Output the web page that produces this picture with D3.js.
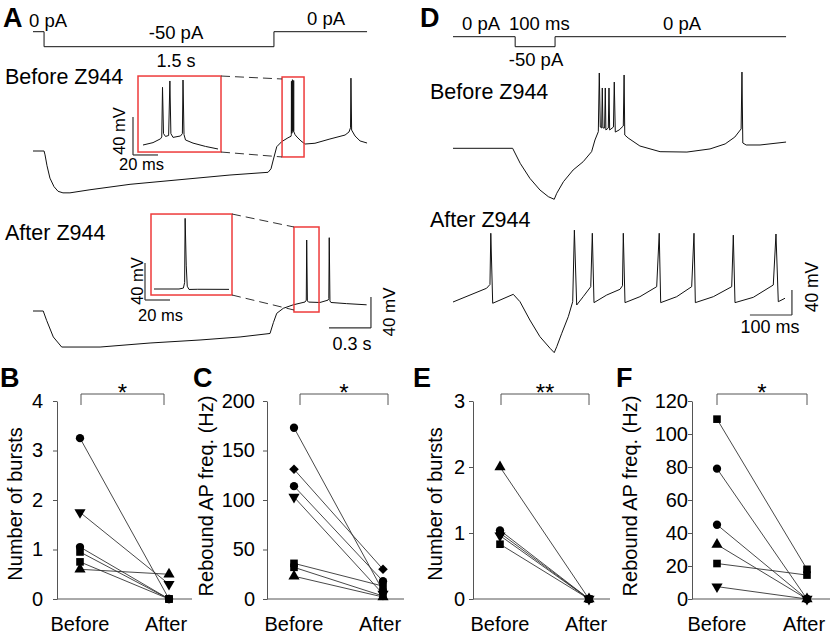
<!DOCTYPE html>
<html><head><meta charset="utf-8">
<script src="https://cdn.jsdelivr.net/npm/d3@7"></script>
<style>
body{margin:0;background:#fff}
svg{display:block}
text{font-family:Arial,"Liberation Sans",Helvetica,sans-serif;fill:#000}
</style></head>
<body><svg id="fig" width="831" height="634"></svg>
<script>
// ---------------- DATA ----------------
const groups = ["Before", "After"];

// Panel B: number of bursts (1.5 s step)
const bShapes = ["circle", "triDown", "circle", "square", "square", "triangle"];
const bBefore = [3.25, 1.75, 1.05, 0.95, 0.75, 0.6];
const bAfter  = [0, 0.3, 0, 0, 0, 0.5];
const bTicks  = [0, 1, 2, 3, 4];

// Panel C: rebound AP frequency (Hz)
const cShapes = ["circle", "diamond", "circle", "triDown", "square", "square", "triangle"];
const cBefore = [173, 131, 114, 103, 36, 32, 23];
const cAfter  = [8, 30, 18, 5, 13, 3, 2];
const cTicks  = [0, 50, 100, 150, 200];

// Panel E: number of bursts (100 ms step)
const eShapes = ["triangle", "circle", "circle", "triDown", "square"];
const eBefore = [2.0, 1.04, 1.0, 0.96, 0.83];
const eAfter  = [0, 0, 0, 0, 0];
const eTicks  = [0, 1, 2, 3];

// Panel F: rebound AP frequency (Hz)
const fShapes = ["square", "circle", "circle", "triangle", "square", "triDown"];
const fBefore = [109, 79, 45, 33, 21.5, 7.5];
const fAfter  = [18, 0, 0, 0, 14.5, 0];
const fTicks  = [0, 20, 40, 60, 80, 100, 120];

// Panel A: current step (ms, pA)
const aCurrent = [[0,0],[79,0],[79,-50],[1721,-50],[1721,0],[2386,0]];
// Panel A: membrane potential before Z944 (ms, mV)
const aBeforeTrace = [[0,-60],[79,-60],[86,-65],[100,-79],[121,-95],[150,-106],[179,-112],[214,-114],[264,-114],
  [407,-110],[693,-103],[1050,-97],[1407,-91],[1679,-87.5],[1700,-83],[1716,-71.6],[1741,-54.5],[1776,-48],
  [1821,-43],[1843,-41],[1845,-39],[1846,30],[1847,-36],[1850,-37],[1852,-35],[1853,32],[1854,-34],[1859,-35],
  [1861,-33],[1862,31],[1863,-35],[1872,-39],[1886,-42],[1914,-47],[1943,-51],[2014,-50],[2121,-44.5],
  [2229,-39.4],[2257,-35.5],[2268,-30],[2271,34],[2276,-33],[2300,-40.6],[2336,-47],[2386,-49.7]];
// Panel A: after Z944
const aAfterTrace = [[0,-60],[73,-60],[97,-72],[145,-93.5],[205,-106.5],[479,-106.5],[836,-101.3],[1193,-97.4],
  [1479,-93.5],[1693,-89],[1717,-75],[1741,-63],[1788,-56.5],[1859,-52],[1943,-48.4],[1952,-46],[1955,31.6],
  [1960,-47],[1968,-48.5],[2050,-49],[2107,-46],[2113,-44],[2116,34.6],[2121,-47],[2128,-49],[2240,-50.5],[2383,-52]];
// Panel A insets (ms, mV)
const aInsetBefore = [[0,-45],[8,-42.5],[14,-38.5],[15,-36.5],[15.6,15.7],[16.4,-33],[18,-36],[20.5,-35],
  [21.5,22.4],[22.3,-33],[24,-37],[30,-35.5],[31.5,-33],[32,23.4],[32.8,-34],[34,-39.7],[40,-43],[50,-46.5],[60,-49.2]];
const aInsetAfter = [[0,-45],[20,-45],[23.5,-44],[24.5,-38],[24.9,31.4],[25.8,-20],[26.6,-42],[28,-45.5],
  [35,-45.3],[60,-45.4]];

// Panel D: current step (ms, pA)
const dCurrent = [[0,0],[148,0],[148,-50],[243,-50],[243,0],[793,0]];
// Panel D: before Z944 (ms, mV)
const dBeforeTrace = [[0,-60],[142,-60],[160,-84],[183,-108],[207,-126.7],[227,-137.4],[241,-141.6],[247,-132],
  [263,-113.4],[286,-94.7],[310,-81.4],[330,-65.4],[338,-46.7],[346,-33.4],[348.3,60.5],[350.7,-26],
  [354,-27.5],[355.5,36.5],[357,-27.5],[361,-27.5],[362.6,36.5],[364,-30.7],[369.8,-27.5],[371.4,36.5],
  [373,-30.7],[382,-26],[384,46],[386.4,-34],[395.5,-30.7],[405.5,-24.3],[407.4,57.3],[409,-38.7],
  [417,-43.5],[445,-56.3],[493,-65.4],[557,-66],[612,-61],[648,-53],[671,-42],[686,-29],[688,62],
  [690,-51.5],[698,-54.7],[731,-54.7],[793,-50]];
// Panel D: after Z944
const dAfterTrace = [[0,-60],[80,-38],[88,-32],[90,50],[94.5,-62],[143.5,-47.7],[159.5,-59.5],[183,-88.8],
  [207,-115.5],[231,-134],[241,-141],[247,-131.5],[259,-110],[274.5,-83.5],[285,-59.5],[289,55],[294.5,-64.8],
  [310,-51.5],[328,-35.5],[331.7,50],[335.7,-61],[366,-48.8],[397.6,-39.7],[403.5,-34],[405.5,50],[409.5,-61],
  [445,-51.5],[485,-35.5],[491,50],[494.5,-61],[532.6,-51.5],[568.3,-35.5],[573.8,50],[577,-61],
  [619.8,-51.5],[663.6,-35.5],[667.4,47],[671.4,-61],[715,-52.5],[762.6,-32.8],[769,48.8],[774.5,-59.5],[790.5,-54]];

// ---------------- DRAW ----------------
const svg = d3.select("#fig");
const FONT = 'Arial, "Liberation Sans", Helvetica, sans-serif';

function txt(x, y, s, size, opts = {}) {
  const t = svg.append("text").attr("x", x).attr("y", y).text(s)
    .style("font-size", size + "px");
  if (opts.anchor) t.attr("text-anchor", opts.anchor);
  if (opts.bold) t.style("font-weight", "bold");
  return t;
}
function rtxt(x, y, s, size) { // rotated -90, centered at y, baseline at x
  return svg.append("text").attr("transform", `translate(${x},${y}) rotate(-90)`)
    .attr("text-anchor", "middle").style("font-size", size + "px").text(s);
}
function trace(data, xs, ys, w = 1) {
  svg.append("path").datum(data)
    .attr("d", d3.line().x(d => xs(d[0])).y(d => ys(d[1])))
    .attr("fill", "none").attr("stroke", "#111").attr("stroke-width", w)
    .attr("stroke-linejoin", "round");
}
function scaleBar(xs, ys, t0, dt, v0, dv) {
  svg.append("path")
    .attr("d", `M${xs(t0)},${ys(v0)}H${xs(t0 + dt)}` + (dv ? `M${xs(t0 + dt)},${ys(v0)}V${ys(v0 + dv)}` : ""))
    .attr("fill", "none").attr("stroke", "#333").attr("stroke-width", 1.2);
}
function vBar(xs, ys, t0, v0, dv) {
  svg.append("path").attr("d", `M${xs(t0)},${ys(v0)}V${ys(v0 + dv)}`)
    .attr("fill", "none").attr("stroke", "#333").attr("stroke-width", 1.2);
}
function redBox(xs, ys, t0, t1, v0, v1) {
  svg.append("rect").attr("x", xs(t0)).attr("y", ys(v1))
    .attr("width", xs(t1) - xs(t0)).attr("height", ys(v0) - ys(v1))
    .attr("fill", "none").attr("stroke", "#ee3b3b").attr("stroke-width", 1.5);
}
function dashed(x1, y1, x2, y2) {
  svg.append("line").attr("x1", x1).attr("y1", y1).attr("x2", x2).attr("y2", y2)
    .attr("stroke", "#333").attr("stroke-width", 1).attr("stroke-dasharray", "9,5");
}

// ===== Panel A =====
txt(3, 27, "A", 27, {bold: true});
const xA = d3.scaleLinear().domain([0, 2400]).range([33, 369]);
const yIA = d3.scaleLinear().domain([-50, 0]).range([46.7, 31.7]);
trace(aCurrent, xA, yIA, 1);
txt(29, 27, "0 pA", 18.5);
txt(176, 39, "-50 pA", 18.5, {anchor: "middle"});
txt(326, 25, "0 pA", 18.5, {anchor: "middle"});
txt(176, 67, "1.5 s", 18, {anchor: "middle"});

txt(5, 84, "Before Z944", 21.5);
const yA1 = d3.scaleLinear().domain([-60, 0]).range([151, 104.5]);
trace(aBeforeTrace, xA, yA1);
// inset before
const xIB = d3.scaleLinear().domain([0, 60]).range([143, 218]);
const yIB = d3.scaleLinear().domain([-45, 0]).range([145, 102.25]);
redBox(xIB, yIB, -4, 62.4, -52.4, 27.6);
redBox(xA, yA1, 1779, 1936, -67.7, 35.5);
dashed(xIB(62.4), yIB(27.6), xA(1779), yA1(35.5) + 2);
dashed(xIB(62.4), yIB(-52.4), xA(1779), yA1(-67.7));
trace(aInsetBefore, xIB, yIB);
scaleBar(xIB, yIB, -8, 20, -55.5, 0);
vBar(xIB, yIB, -8, -55.5, 40);
rtxt(125, 131, "40 mV", 16.5);
txt(119, 170, "20 ms", 16.5);

txt(5, 240, "After Z944", 21.5);
const yA2 = d3.scaleLinear().domain([-60, 0]).range([311, 264.5]);
trace(aAfterTrace, xA, yA2);
const xIA = d3.scaleLinear().domain([0, 60]).range([154, 229]);
const yIAf = d3.scaleLinear().domain([-45, 0]).range([289, 247.4]);
redBox(xIA, yIAf, -2.4, 62.4, -51.5, 36.1);
redBox(xA, yA2, 1864, 2043, -61.3, 48.4);
dashed(xIA(62.4), yIAf(36.1), xA(1864), yA2(48.4));
dashed(xIA(62.4), yIAf(-51.5), xA(1864), yA2(-61.3) - 2);
trace(aInsetAfter, xIA, yIAf);
scaleBar(xIA, yIAf, -7.2, 20, -56.9, 0);
vBar(xIA, yIAf, -7.2, -56.9, 40);
rtxt(143, 281, "40 mV", 16.5);
txt(138, 321, "20 ms", 16.5);
// main scale bar A
scaleBar(xA, yA2, 2114, 300, -81.9, 40);
rtxt(395, 312, "40 mV", 17);
txt(352, 350, "0.3 s", 18, {anchor: "middle"});

// ===== Panel D =====
txt(420, 27, "D", 27, {bold: true});
const xD = d3.scaleLinear().domain([0, 800]).range([453, 789]);
const yID = d3.scaleLinear().domain([-50, 0]).range([46.7, 36.7]);
trace(dCurrent, xD, yID, 1);
txt(462, 30, "0 pA", 18.5);
txt(509, 30, "100 ms", 18.5);
txt(682, 30, "0 pA", 18.5, {anchor: "middle"});
txt(536, 66, "-50 pA", 18.5, {anchor: "middle"});
txt(430, 99, "Before Z944", 21.5);
const yD1 = d3.scaleLinear().domain([-60, 0]).range([148.3, 110.8]);
trace(dBeforeTrace, xD, yD1);
txt(430, 227, "After Z944", 21.5);
const yD2 = d3.scaleLinear().domain([-60, 0]).range([302, 264.5]);
trace(dAfterTrace, xD, yD2);
scaleBar(xD, yD2, 707, 100, -80.8, 40);
rtxt(818, 287, "40 mV", 17.5);
txt(770, 333, "100 ms", 18, {anchor: "middle"});

// ===== Paired panels =====
function symPath(shape) {
  if (shape === "circle") return {d: d3.symbol(d3.symbolCircle, 54)(), r: 0};
  if (shape === "square") return {d: d3.symbol(d3.symbolSquare, 58)(), r: 0};
  if (shape === "triangle") return {d: d3.symbol(d3.symbolTriangle, 54)(), r: 0};
  if (shape === "triDown") return {d: d3.symbol(d3.symbolTriangle, 54)(), r: 180};
  if (shape === "diamond") return {d: d3.symbol(d3.symbolSquare, 46)(), r: 45};
}
function paired(o) {
  const g = svg.append("g");
  const x = d3.scalePoint().domain(groups).range([o.xb, o.xa]);
  const y = d3.scaleLinear().domain([0, o.max]).range([599, 401]);
  const ax = g.append("g").attr("transform", `translate(${o.axisX},0)`)
    .call(d3.axisLeft(y).tickValues(o.ticks).tickFormat(d3.format("d"))
      .tickSize(4).tickSizeOuter(0).tickPadding(o.pad));
  ax.select(".domain").attr("stroke", "#555");
  ax.selectAll(".tick line").attr("stroke", "#555");
  ax.selectAll(".tick text").style("font-size", "20px").style("font-family", FONT).attr("fill", "#000");
  g.append("line").attr("x1", o.axisX).attr("x2", o.xEnd).attr("y1", y(0)).attr("y2", y(0))
    .attr("stroke", "#555").attr("stroke-width", 1);
  // x labels
  groups.forEach((gname, i) => {
    g.append("text").attr("x", x(gname) + (i ? -3 : 0)).attr("y", 631).attr("text-anchor", "middle")
      .style("font-size", "20px").text(gname);
  });
  // axis title
  g.append("text").attr("transform", `translate(${o.titleX},${o.titleY}) rotate(-90)`)
    .attr("text-anchor", "middle").style("font-size", "20px").text(o.title);
  // bracket
  g.append("path").attr("d", `M${o.br[0]},405V394H${o.br[1]}V405`)
    .attr("fill", "none").attr("stroke", "#555").attr("stroke-width", 1);
  g.append("text").attr("x", (o.br[0] + o.br[1]) / 2).attr("y", 401).attr("text-anchor", "middle")
    .style("font-size", "24px").text(o.star);
  // lines
  o.before.forEach((b, i) => {
    g.append("line").attr("x1", x("Before")).attr("y1", y(b))
      .attr("x2", x("After")).attr("y2", y(o.after[i]))
      .attr("stroke", "#333").attr("stroke-width", 0.9);
  });
  // markers
  o.before.forEach((b, i) => {
    const s = symPath(o.shapes[i]);
    [[x("Before"), y(b)], [x("After"), y(o.after[i])]].forEach(p => {
      g.append("path").attr("d", s.d)
        .attr("transform", `translate(${p[0]},${p[1]}) rotate(${s.r})`).attr("fill", "#000");
    });
  });
  txt(o.letter[1], 387, o.letter[0], 27, {bold: true});
}

paired({letter: ["B", 0], axisX: 57, xb: 80, xa: 169, xEnd: 192, pad: 10, max: 4, ticks: bTicks,
  before: bBefore, after: bAfter, shapes: bShapes, title: "Number of bursts", titleX: 22, titleY: 504,
  br: [81, 164], star: "*"});
paired({letter: ["C", 193], axisX: 267, xb: 294, xa: 383, xEnd: 404, pad: 8, max: 200, ticks: cTicks,
  before: cBefore, after: cAfter, shapes: cShapes, title: "Rebound AP freq. (Hz)", titleX: 213, titleY: 496,
  br: [300, 388], star: "*"});
paired({letter: ["E", 413], axisX: 473, xb: 500, xa: 589, xEnd: 610, pad: 4, max: 3, ticks: eTicks,
  before: eBefore, after: eAfter, shapes: eShapes, title: "Number of bursts", titleX: 442, titleY: 504,
  br: [501, 589], star: "**"});
paired({letter: ["F", 616], axisX: 692, xb: 717, xa: 807, xEnd: 830, pad: 0, max: 120, ticks: fTicks,
  before: fBefore, after: fAfter, shapes: fShapes, title: "Rebound AP freq. (Hz)", titleX: 637, titleY: 496,
  br: [717, 807], star: "*"});
</script>
</body></html>
